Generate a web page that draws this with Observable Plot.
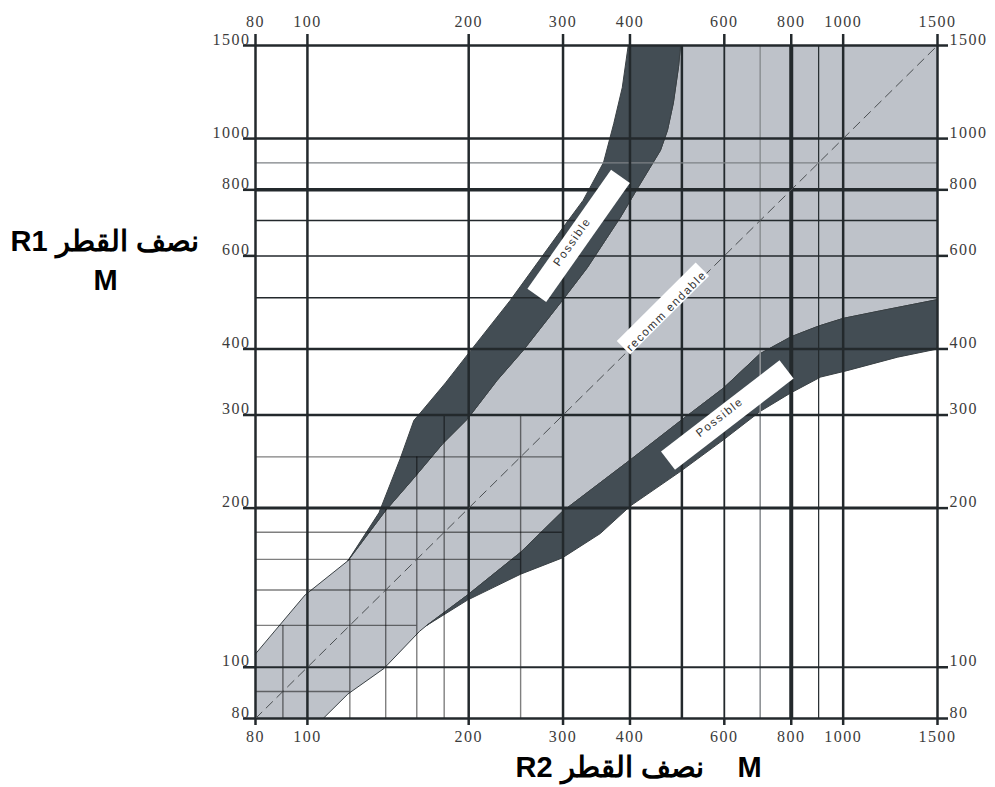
<!DOCTYPE html>
<html>
<head>
<meta charset="utf-8">
<script src="https://cdn.jsdelivr.net/npm/d3@7"></script>
<script src="https://cdn.jsdelivr.net/npm/@observablehq/plot@0.6"></script>
<style>
  html, body { margin: 0; padding: 0; background: #fff; }
  #chart svg { display: block; }
</style>
</head>
<body>
<div id="chart"></div>
<script>
// ---- tick labels and grid values ----
const tickValues = [80, 100, 200, 300, 400, 600, 800, 1000, 1500];
const majorGrid = [80, 100, 200, 300, 400, 1000, 1500];
const heavyGrid = [800];
const fineGrid = [500, 600, 700, 900];
const shortGrid = [90, 120, 140, 160, 180, 250];
const shortGridEnd = [120, 160, 200, 250, 300, 300];
const diagonal = [80, 1500];

// ---- upper "Possible" band, outer edge ----
const upperOuterR2 = [119, 136, 149, 158, 163, 181, 202, 239, 300, 327, 357, 373, 387, 397];
const upperOuterR1 = [159, 196, 248, 293, 304, 345, 398, 494, 679, 764, 901, 1067, 1249, 1500];
// ---- "recommendable" zone, upper edge ----
const upperInnerR2 = [80, 99, 119, 140, 158, 179, 199, 226, 253, 299, 333, 384, 414, 456, 470, 482, 493, 497];
const upperInnerR1 = [106, 137, 159, 198, 228, 265, 295, 349, 398, 494, 570, 710, 808, 950, 1037, 1168, 1370, 1500];
// ---- "recommendable" zone, lower edge ----
const lowerInnerR2 = [107, 119, 139, 162, 167, 199, 250, 299, 401, 498, 597, 700, 800, 900, 1000, 1170, 1500];
const lowerInnerR1 = [80, 89, 99.5, 117, 120, 137, 165, 197, 247, 293, 337, 392, 422, 442, 457, 472, 496];
// ---- lower "Possible" band, outer edge ----
const lowerOuterR2 = [167, 199, 250, 299, 352, 401, 498, 597, 701, 797, 908, 1017, 1264, 1500];
const lowerOuterR1 = [120, 134, 150, 161, 179, 202, 235, 269, 305, 330, 354, 364, 386, 400];

// ---- annotations ----
const annotLabels = ["Possible", "recomm endable", "Possible"];
const annotR2 = [312, 468, 588];
const annotR1 = [638, 472, 297];
const boxR2Start = [268, 389, 471];
const boxR1Start = [505, 402, 246];
const boxR2End = [384, 546, 784];
const boxR1End = [848, 566, 366];

const titleLeft = "R1 نصف القطر";
const titleBottom = "R2 نصف القطر";
const unitLabel = "M";

// ---- build polygons ----
const pts = (xs, ys) => xs.map((x, i) => ({x, y: ys[i]}));
const A = pts(upperOuterR2, upperOuterR1);
const B = pts(upperInnerR2, upperInnerR1);
const C = pts(lowerInnerR2, lowerInnerR1);
const D = pts(lowerOuterR2, lowerOuterR1);

const lightPoly = [...B, {x: 1500, y: 1500}, ...C.slice().reverse(), {x: 80, y: 80}];
const upperDark = [...A, ...B.filter(p => p.x >= A[0].x).reverse()];
const lowerDark = [...C.filter(p => p.x >= D[0].x), ...D.slice().reverse()];

const LIGHT = "#bec2c9";
const DARK = "#434d54";
const GRID = "#23292c";
const EDGE = "#3a4145";
const serif = "'Liberation Serif', 'Times New Roman', serif";
const sans = "'Liberation Sans', Arial, sans-serif";

const hWidth = v => ({500: 1.3, 600: 1.5, 700: 1.5, 900: 1.2, 200: 3, 100: 2.2}[v] ?? 2.5);
const vWidth = v => ({500: 2.5, 600: 1.8, 700: 1.6, 900: 1.2}[v] ?? 2.5);

const chart = Plot.plot({
  width: 995,
  height: 787,
  marginLeft: 255,
  marginRight: 58,
  marginTop: 45,
  marginBottom: 69,
  x: {type: "log", domain: [80, 1500]},
  y: {type: "log", domain: [80, 1500]},
  style: {background: "#fff", fontFamily: sans},
  marks: [
    // zones
    Plot.line(lightPoly, {x: "x", y: "y", fill: LIGHT, stroke: EDGE, strokeWidth: 1, curve: "linear"}),
    Plot.line(upperDark, {x: "x", y: "y", fill: DARK, stroke: EDGE, strokeWidth: 1, curve: "linear"}),
    Plot.line(lowerDark, {x: "x", y: "y", fill: DARK, stroke: EDGE, strokeWidth: 1, curve: "linear"}),

    // short minor grid lines (lower-left)
    Plot.ruleX(shortGrid, {x: d => d, y1: 80, y2: (d, i) => shortGridEnd[i], stroke: "#000", strokeOpacity: 0.5, strokeWidth: 1.4}),
    Plot.ruleY(shortGrid, {y: d => d, x1: 80, x2: (d, i) => shortGridEnd[i], stroke: "#000", strokeOpacity: 0.5, strokeWidth: 1.4}),

    // fine full grid lines
    Plot.ruleX(fineGrid.filter(v => v !== 700), {x: d => d, stroke: GRID, strokeWidth: d => vWidth(d)}),
    Plot.ruleX(fineGrid.filter(v => v === 700), {x: d => d, stroke: "#8e9296", strokeWidth: 1.6}),
    Plot.ruleY(fineGrid.filter(v => v !== 900), {y: d => d, stroke: GRID, strokeWidth: d => hWidth(d)}),
    Plot.ruleY(fineGrid.filter(v => v === 900), {y: d => d, stroke: "#7d8185", strokeWidth: 1.2}),

    // major grid
    Plot.ruleX(majorGrid, {x: d => d, stroke: GRID, strokeWidth: d => vWidth(d)}),
    Plot.ruleY(majorGrid, {y: d => d, stroke: GRID, strokeWidth: d => hWidth(d)}),
    Plot.ruleX(heavyGrid, {x: d => d, stroke: GRID, strokeWidth: 4}),
    Plot.ruleY(heavyGrid, {y: d => d, stroke: GRID, strokeWidth: 3.5}),

    // diagonal
    Plot.line(diagonal, {x: d => d, y: d => d, stroke: "#4b4f52", strokeWidth: 1, strokeDasharray: "9,6"}),

    // outer ticks
    Plot.axisX(tickValues, {anchor: "top", tickSize: 12, tickFormat: () => "", stroke: GRID, strokeWidth: 2.5, label: null}),
    Plot.axisX(tickValues, {anchor: "bottom", tickSize: 7, tickFormat: () => "", stroke: GRID, strokeWidth: 2.5, label: null}),
    Plot.axisY(tickValues, {anchor: "left", tickSize: 12, tickFormat: () => "", stroke: GRID, strokeWidth: 2.5, label: null}),
    Plot.axisY(tickValues, {anchor: "right", tickSize: 10, tickFormat: () => "", stroke: GRID, strokeWidth: 2.5, label: null}),

    // tick labels
    Plot.text(tickValues, {x: d => d, frameAnchor: "top", dy: -30, text: d => String(d), fontSize: 16, fill: "#3c3c3c", fontFamily: serif}),
    Plot.text(tickValues, {x: d => d, frameAnchor: "bottom", dy: 23, text: d => String(d), fontSize: 16, fill: "#3c3c3c", fontFamily: serif}),
    Plot.text(tickValues, {y: d => d, frameAnchor: "left", dx: -5, dy: -6, textAnchor: "end", text: d => String(d), fontSize: 16, fill: "#3c3c3c", fontFamily: serif}),
    Plot.text(tickValues, {y: d => d, frameAnchor: "right", dx: 12, dy: -6, textAnchor: "start", text: d => String(d), fontSize: 16, fill: "#3c3c3c", fontFamily: serif}),

    // annotation boxes
    Plot.link([0, 2], {x1: i => boxR2Start[i], y1: i => boxR1Start[i], x2: i => boxR2End[i], y2: i => boxR1End[i], stroke: "#fff", strokeWidth: 23, strokeLinecap: "butt"}),
    Plot.link([1], {x1: i => boxR2Start[i], y1: i => boxR1Start[i], x2: i => boxR2End[i], y2: i => boxR1End[i], stroke: "#fff", strokeWidth: 19, strokeLinecap: "butt"}),
    Plot.text(annotLabels, {x: (d, i) => annotR2[i], y: (d, i) => annotR1[i], rotate: (d, i) => [-55, -45, -38][i], text: d => d, fontSize: 11.5, fill: "#333", fontFamily: sans}),

    // axis titles
    Plot.text([titleLeft], {frameAnchor: "top-left", dx: -245, dy: 185, textAnchor: "start", fontSize: 29, fontWeight: "bold", fill: "#000", fontFamily: sans}),
    Plot.text([unitLabel], {frameAnchor: "top-left", dx: -150, dy: 224, textAnchor: "middle", fontSize: 29, fontWeight: "bold", fill: "#000", fontFamily: sans}),
    Plot.text([titleBottom], {frameAnchor: "bottom-left", dx: 260, dy: 58, textAnchor: "start", fontSize: 29, fontWeight: "bold", fill: "#000", fontFamily: sans}),
    Plot.text([unitLabel], {frameAnchor: "bottom-left", dx: 494, dy: 58, textAnchor: "middle", fontSize: 29, fontWeight: "bold", fill: "#000", fontFamily: sans})
  ]
});

// letter spacing for tick labels and annotation labels
chart.querySelectorAll("text").forEach(t => {
  const s = t.textContent;
  if (/^\d+$/.test(s)) t.style.letterSpacing = "1.5px";
  else if (annotLabels.includes(s)) t.style.letterSpacing = "1.6px";
});

document.getElementById("chart").appendChild(chart);
</script>
</body>
</html>
